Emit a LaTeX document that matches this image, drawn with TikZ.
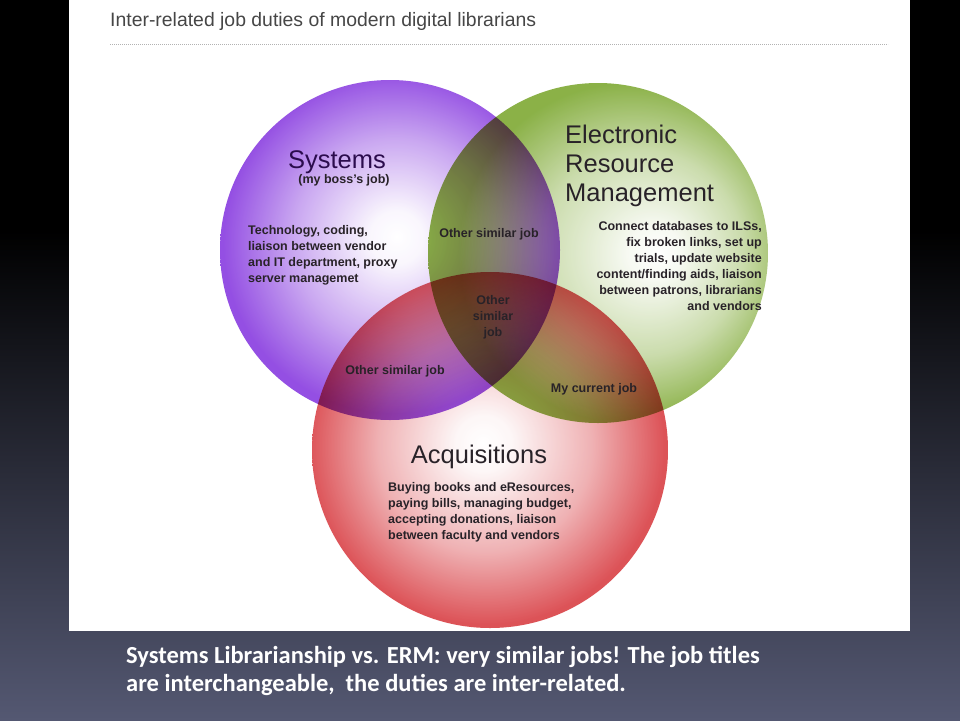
\documentclass[tikz,border=0pt]{standalone}
\usepackage{fontspec}
\setmainfont{Liberation Sans}
\newfontfamily\slidefont{Carlito}
\usetikzlibrary{positioning}

\definecolor{SysPurple}{RGB}{122,36,220}
\definecolor{ErmGreen}{RGB}{110,158,26}
\definecolor{AcqRed}{RGB}{212,40,46}
\definecolor{SlideBlue}{RGB}{84,88,114}
\definecolor{TitleGray}{RGB}{70,70,70}
\definecolor{InkGray}{RGB}{40,34,40}

\pgfdeclareverticalshading{slide}{100bp}{color(0bp)=(SlideBlue); color(25bp)=(SlideBlue); color(59bp)=(black); color(100bp)=(black)}
\pgfdeclareradialshading{sysball}{\pgfpoint{1bp}{2bp}}{color(0bp)=(white); color(4bp)=(SysPurple!5); color(15bp)=(SysPurple!50); color(25bp)=(SysPurple); color(50bp)=(SysPurple)}
\pgfdeclareradialshading{ermball}{\pgfpoint{9bp}{0bp}}{color(0bp)=(white); color(4bp)=(ErmGreen!7); color(15bp)=(ErmGreen!45); color(25bp)=(ErmGreen); color(50bp)=(ErmGreen)}
\pgfdeclareradialshading{acqball}{\pgfpoint{-1bp}{1bp}}{color(0bp)=(white); color(4bp)=(AcqRed!5); color(15bp)=(AcqRed!45); color(25bp)=(AcqRed); color(50bp)=(AcqRed)}

\tikzstyle{every node} = [inner sep=0pt, text=InkGray]
\tikzstyle{ball} = [blend mode=multiply, opacity=0.8]
\tikzstyle{heading} = [font=\fontsize{25.5}{29}\selectfont]
\tikzstyle{duty} = [font=\bfseries\fontsize{12.5}{16}\selectfont]
\tikzstyle{overlap} = [duty, align=center, anchor=base]

\begin{document}
\begin{tikzpicture}[x=1pt,y=-1pt]
    % Slide and panel
    \shade[shading=slide] (0,0) rectangle (960,720);
    \fill[white] (69,0) rectangle (910,631);

    % Panel heading
    \node[anchor=base west, text=TitleGray, font=\fontsize{19.4}{23}\selectfont] (title) at (110,27) {Inter-related job duties of modern digital librarians};
    \draw[black!30, line width=0.6pt, dash pattern=on 0.8pt off 1.2pt] (110,44) -- (888,44);

    % Circles
    \shade[ball, shading=sysball] (390,250) circle (170pt);
    \shade[ball, shading=ermball] (598,253) circle (170pt);
    \shade[ball, shading=acqball] (490,450) circle (178pt);

    % Systems (multi-line nodes sit on their last baseline)
    \node[heading, anchor=base, text=SysPurple!35!black] (sys) at (337,168) {Systems};
    \node[duty, anchor=base] (boss) at (344,183) {(my boss{\char"0027}s job)};
    \node[duty, anchor=base west, align=left] (sysduty) at (248,282)
        {Technology, coding,\\liaison between vendor\\and IT department, proxy\\server managemet};

    % Electronic Resource Management
    \node[heading, anchor=base west, align=left] (erm) at (565,201)
        {Electronic\\Resource\\Management};
    \node[duty, anchor=base east, align=right] (ermduty) at (762,310)
        {Connect databases to ILSs,\\fix broken links, set up\\trials, update website\\content/finding aids, liaison\\between patrons, librarians\\and vendors};

    % Acquisitions
    \node[heading, anchor=base] (acq) at (479,463) {Acquisitions};
    \node[duty, anchor=base west, align=left] (acqduty) at (388,539)
        {Buying books and eResources,\\paying bills, managing budget,\\accepting donations, liaison\\between faculty and vendors};

    % Overlaps
    \node[overlap] (sysErm) at (489,237) {Other similar job};
    \node[overlap] (sysAcq) at (395,374) {Other similar job};
    \node[overlap] (ermAcq) at (594,392) {My current job};
    \node[overlap] (allThree) at (493,336) {Other\\similar\\job};

    % Slide caption
    \node[anchor=base west, align=left, text=white, font=\slidefont\bfseries\fontsize{24.5}{28}\selectfont] (caption) at (126,691)
        {Systems Librarianship vs. ERM: very similar jobs! The job titles\\are interchangeable,~ the duties are inter-related.};
\end{tikzpicture}
\end{document}
